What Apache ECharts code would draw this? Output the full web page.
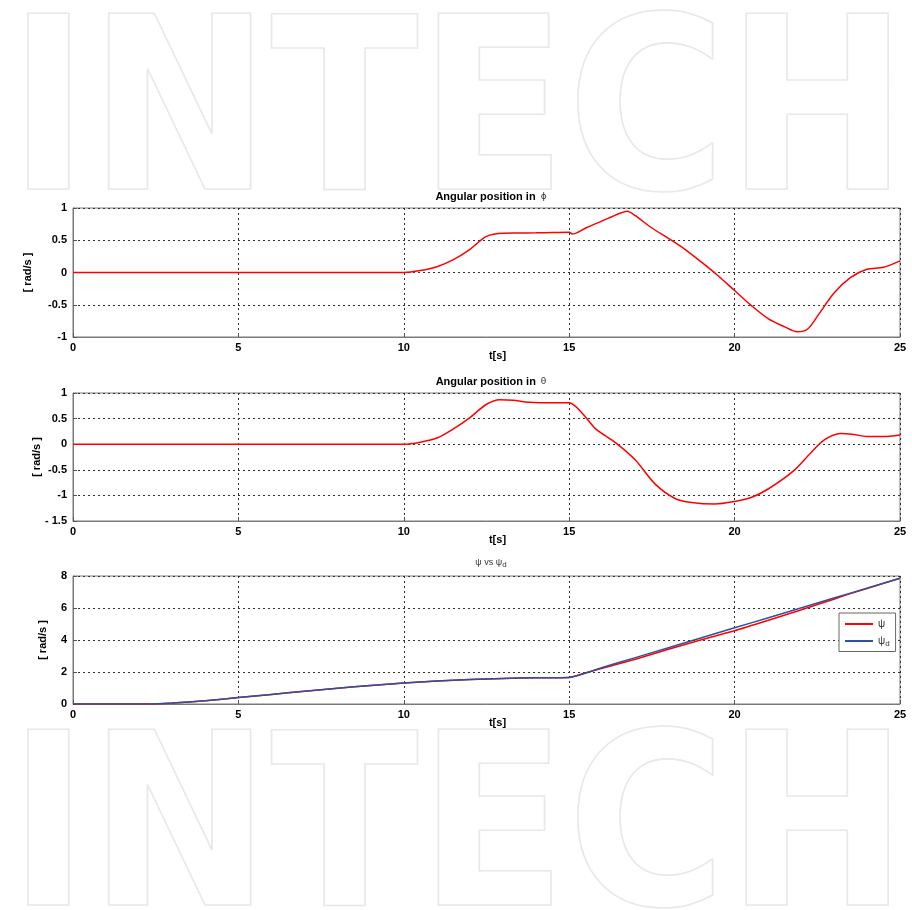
<!DOCTYPE html>
<html>
<head>
<meta charset="utf-8">
<script src="https://cdn.jsdelivr.net/npm/echarts@6/dist/echarts.min.js"></script>
<style>
html,body{margin:0;padding:0;background:#fff;}
#c{width:912px;height:910px;}
</style>
</head>
<body>
<div id="c"></div>
<script>
// ---- data ----
var xTicks = [0, 5, 10, 15, 20, 25];
var phiTicks = [-1, -0.5, 0, 0.5, 1];
var thetaTicks = [-1.5, -1, -0.5, 0, 0.5, 1];
var psiTicks = [0, 2, 4, 6, 8];

var phiT = [0, 10, 10.5, 11, 11.5, 12, 12.5, 13, 13.5, 14, 14.5, 15, 15.1, 15.5, 16, 16.5, 16.75, 17, 17.5, 18, 18.5, 19, 19.5, 20, 20.5, 21, 21.5, 21.9, 22.2, 22.5, 23, 23.5, 24, 24.5, 25];
var phiV = [0, 0, 0.03, 0.09, 0.2, 0.36, 0.56, 0.61, 0.612, 0.615, 0.62, 0.625, 0.595, 0.69, 0.8, 0.91, 0.95, 0.88, 0.69, 0.53, 0.36, 0.16, -0.05, -0.28, -0.51, -0.71, -0.84, -0.92, -0.88, -0.68, -0.32, -0.08, 0.05, 0.08, 0.18];

var thetaT = [0, 10, 10.5, 11, 11.5, 12, 12.5, 12.9, 13.3, 13.8, 14.5, 15, 15.4, 15.8, 16.4, 17, 17.6, 18.2, 18.7, 19.4, 20, 20.5, 21, 21.8, 22.3, 22.7, 23.2, 23.6, 24, 24.5, 25];
var thetaV = [0, 0, 0.04, 0.12, 0.3, 0.52, 0.78, 0.87, 0.86, 0.82, 0.81, 0.81, 0.6, 0.3, 0.03, -0.31, -0.78, -1.06, -1.14, -1.17, -1.12, -1.04, -0.88, -0.51, -0.17, 0.08, 0.21, 0.19, 0.15, 0.15, 0.18];

var psiT = [0, 2.3, 3, 4, 5, 6, 7, 8, 9, 10, 11, 12, 13, 14, 15, 15.5, 16, 17, 18, 19, 20, 21, 22, 23, 23.5, 24, 25];
var psiV = [0, 0, 0.06, 0.2, 0.4, 0.6, 0.8, 0.99, 1.16, 1.31, 1.43, 1.53, 1.6, 1.64, 1.66, 1.95, 2.24, 2.8, 3.42, 4.02, 4.58, 5.22, 5.88, 6.55, 6.9, 7.22, 7.86];

var psiDT = [0, 2.3, 3, 4, 5, 6, 7, 8, 9, 10, 11, 12, 13, 14, 15, 16, 17, 18, 19, 20, 21, 22, 23, 24, 25];
var psiDV = [0, 0, 0.06, 0.2, 0.4, 0.6, 0.8, 0.99, 1.16, 1.31, 1.43, 1.53, 1.6, 1.64, 1.66, 2.28, 2.9, 3.52, 4.14, 4.76, 5.38, 6.0, 6.62, 7.24, 7.86];

function pairs(t, v) { return t.map(function (x, i) { return [x, v[i]]; }); }

var FONT = '"Liberation Sans", Arial, sans-serif';
var grids = [
  {left: 73, right: 12, top: 208, height: 129},
  {left: 73, right: 12, top: 393, height: 128},
  {left: 73, right: 12, top: 576, height: 128}
];
var yTickSets = [phiTicks, thetaTicks, psiTicks];
var yNameGaps = [40, 31, 25];

var xAxes = grids.map(function (g, i) {
  return {
    gridIndex: i, type: 'value', min: xTicks[0], max: xTicks[xTicks.length - 1],
    interval: xTicks[1] - xTicks[0],
    name: 't[s]', nameLocation: 'middle', nameGap: 13, nameMoveOverlap: false,
    nameTextStyle: {fontFamily: FONT, fontWeight: 'bold', fontSize: 11, color: '#000', padding: [0, 0, 0, 22]},
    axisLine: {show: true, onZero: false, lineStyle: {color: '#7a7a7a', width: 1}},
    axisTick: {show: true, inside: true, length: 4, lineStyle: {color: '#555'}},
    axisLabel: {fontFamily: FONT, fontWeight: 'bold', fontSize: 11, color: '#000', margin: 5},
    splitLine: {show: true, lineStyle: {color: '#333', type: [2, 3], width: 1}}
  };
});
var yAxes = grids.map(function (g, i) {
  var tk = yTickSets[i];
  return {
    gridIndex: i, type: 'value', min: tk[0], max: tk[tk.length - 1], interval: tk[1] - tk[0],
    name: '[ rad/s ]', nameLocation: 'middle', nameGap: yNameGaps[i], nameRotate: 90, nameMoveOverlap: false,
    nameTextStyle: {fontFamily: FONT, fontWeight: 'bold', fontSize: 11, color: '#000'},
    axisLine: {show: true, onZero: false, lineStyle: {color: '#7a7a7a', width: 1}},
    axisTick: {show: true, inside: true, length: 4, lineStyle: {color: '#555'}},
    axisLabel: {fontFamily: FONT, fontWeight: 'bold', fontSize: 11, color: '#000', margin: 6,
      formatter: function (v) { return v === -1.5 ? '- 1.5' : String(v); }},
    splitLine: {show: true, lineStyle: {color: '#333', type: [2, 3], width: 1}}
  };
});

var titleRich = {
  b: {fontFamily: FONT, fontWeight: 'bold', fontSize: 11, color: '#000'},
  s: {fontFamily: '"DejaVu Sans", sans-serif', fontWeight: 'normal', fontSize: 9, color: '#333'},
  n: {fontFamily: FONT, fontWeight: 'normal', fontSize: 9, color: '#333'},
  sub: {fontFamily: FONT, fontWeight: 'normal', fontSize: 8, color: '#333', padding: [5, 0, 0, 0]}
};

var chart = echarts.init(document.getElementById('c'), null, {renderer: 'canvas'});

// watermark sizing
var wmFont = 'bold 240px "Liberation Sans Narrow", "DejaVu Sans Condensed", sans-serif';
var cv = document.createElement('canvas').getContext('2d');
cv.font = wmFont;
var wmW = cv.measureText('INTECH').width;
var wmScale = 900 / wmW;

function wm(y) {
  return {
    type: 'text', z: -10, silent: true, x: 8, y: y, scaleX: wmScale, scaleY: 1,
    style: {text: 'INTECH', font: wmFont, fill: 'rgba(255,255,255,0)', stroke: '#e8e8e8', lineWidth: 1.6,
      textVerticalAlign: 'bottom'}
  };
}

chart.setOption({
  backgroundColor: '#fff',
  animation: false,
  graphic: [wm(247), wm(963)],
  title: [
    {text: '{b|Angular position in} {s|ϕ}', left: 486, top: 183, textAlign: 'center', textStyle: {rich: titleRich}},
    {text: '{b|Angular position in} {s|θ}', left: 486, top: 368, textAlign: 'center', textStyle: {rich: titleRich}},
    {text: '{n|ψ vs ψ}{sub|d}', left: 486, top: 551, textAlign: 'center', textStyle: {rich: titleRich}}
  ],
  grid: grids.map(function (g) { return Object.assign({show: true, borderColor: '#7a7a7a', borderWidth: 1, backgroundColor: 'transparent'}, g); }),
  xAxis: xAxes,
  yAxis: yAxes,
  legend: {
    show: true, orient: 'vertical', left: 839, top: 613,
    backgroundColor: '#fff', borderColor: '#666', borderWidth: 1,
    padding: [6, 6, 4, 6], itemGap: 7, itemWidth: 28, itemHeight: 2, icon: 'rect',
    data: ['ψ', 'ψd'],
    formatter: function (n) { return n === 'ψd' ? '{a|ψ}{d|d}' : '{a|ψ}'; },
    textStyle: {rich: {
      a: {fontFamily: FONT, fontSize: 10, color: '#333'},
      d: {fontFamily: FONT, fontSize: 8, color: '#333', padding: [5, 0, 0, 0]}
    }}
  },
  series: [
    {type: 'line', name: 'phi', xAxisIndex: 0, yAxisIndex: 0, data: pairs(phiT, phiV), smooth: 0.3,
      showSymbol: false, symbol: 'none', lineStyle: {color: '#ff0000', width: 1.5}, itemStyle: {color: '#ff0000'}},
    {type: 'line', name: 'theta', xAxisIndex: 1, yAxisIndex: 1, data: pairs(thetaT, thetaV), smooth: 0.3,
      showSymbol: false, symbol: 'none', lineStyle: {color: '#ff0000', width: 1.5}, itemStyle: {color: '#ff0000'}},
    {type: 'line', name: 'ψ', xAxisIndex: 2, yAxisIndex: 2, data: pairs(psiT, psiV), smooth: 0.2,
      showSymbol: false, symbol: 'none', lineStyle: {color: '#ff0000', width: 1.5}, itemStyle: {color: '#ff0000'}},
    {type: 'line', name: 'ψd', xAxisIndex: 2, yAxisIndex: 2, data: pairs(psiDT, psiDV), smooth: 0.2,
      showSymbol: false, symbol: 'none', lineStyle: {color: '#3050a0', width: 1.5}, itemStyle: {color: '#3050a0'}}
  ]
});
</script>
</body>
</html>
